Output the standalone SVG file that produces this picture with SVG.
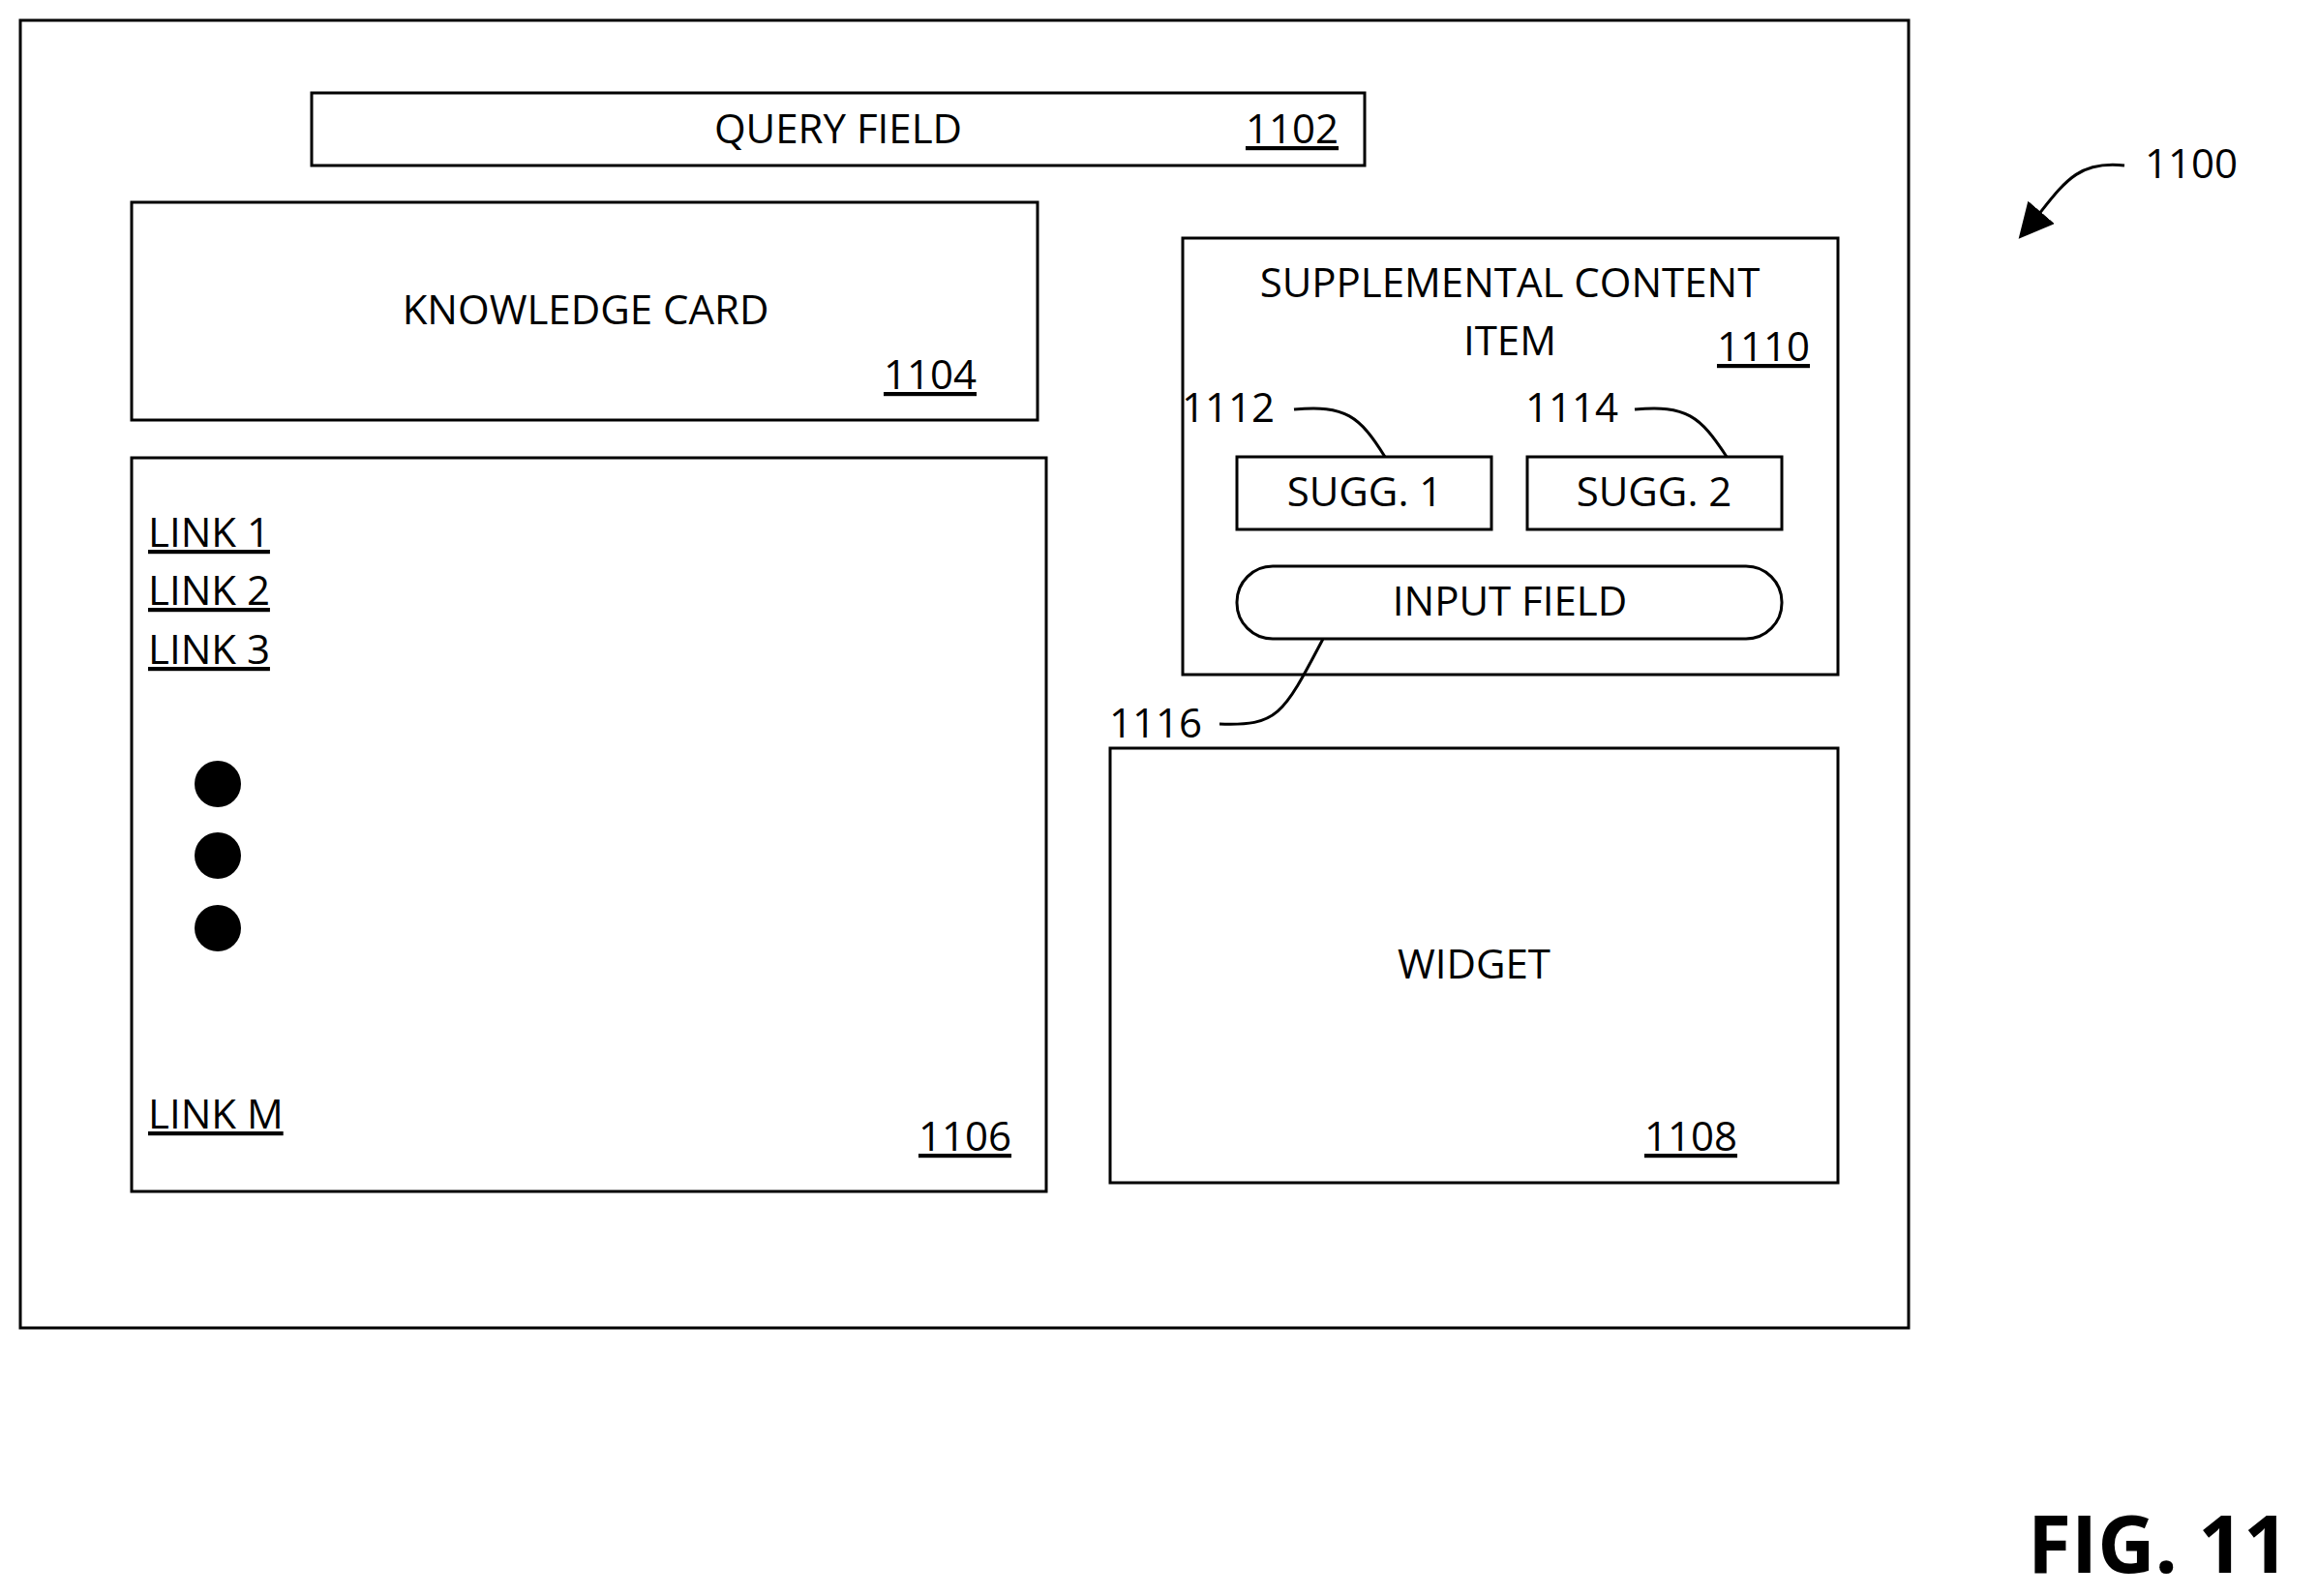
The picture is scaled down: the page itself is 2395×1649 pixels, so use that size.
<svg xmlns="http://www.w3.org/2000/svg" width="2395" height="1649" viewBox="0 0 2395 1649">
<style>
rect{fill:none;stroke:#000;stroke-width:3}
text{font-family:"Open Sans","Liberation Sans",sans-serif;font-size:42px;fill:#000}
.c{text-anchor:middle}
.u{text-decoration:underline}
.l{fill:none;stroke:#000;stroke-width:3}
</style>
<defs><marker id="ah" viewBox="0 0 10 10" refX="9" refY="5" markerWidth="36" markerHeight="36" markerUnits="userSpaceOnUse" orient="auto"><path d="M0,0L10,5L0,10z"/></marker></defs>
<rect x="21" y="21" width="1951" height="1351" fill="#fff"/>
<g id="query"><rect x="322" y="96" width="1088" height="75"/><text class="c" x="866" y="148">QUERY FIELD</text><text class="c u" x="1335" y="148">1102</text></g>
<g id="knowledge"><rect x="136" y="209" width="936" height="225"/><text class="c" x="605" y="335">KNOWLEDGE CARD</text><text class="c u" x="961" y="402">1104</text></g>
<g id="links"><rect x="136" y="473" width="945" height="758"/>
<text class="u" x="153" y="565">LINK 1</text><text class="u" x="153" y="625">LINK 2</text><text class="u" x="153" y="686">LINK 3</text>
<circle cx="225" cy="810" r="24"/><circle cx="225" cy="884" r="24"/><circle cx="225" cy="959" r="24"/>
<text class="u" x="153" y="1166">LINK M</text><text class="c u" x="997" y="1189">1106</text></g>
<g id="supp"><rect x="1222" y="246" width="677" height="451"/><text class="c" x="1560" y="307">SUPPLEMENTAL CONTENT</text><text class="c" x="1560" y="367">ITEM</text><text class="c u" x="1822" y="373">1110</text></g>
<g id="sugg1"><rect x="1278" y="472" width="263" height="75"/><text class="c" x="1410" y="523">SUGG. 1</text><text class="c" x="1269" y="436">1112</text></g>
<g id="sugg2"><rect x="1578" y="472" width="263" height="75"/><text class="c" x="1624" y="436">1114</text><text class="c" x="1709" y="523">SUGG. 2</text></g>
<g id="input"><rect x="1278" y="585" width="563" height="75" rx="37"/><text class="c" x="1560" y="636">INPUT FIELD</text><text class="c" x="1194" y="762">1116</text></g>
<g id="widget"><rect x="1147" y="773" width="752" height="449"/><text class="c" x="1523" y="1011">WIDGET</text><text class="c u" x="1747" y="1189">1108</text></g>
<g id="ref"><text x="2216" y="184">1100</text><text x="2095" y="1625" style="font-size:82px;font-weight:bold">FIG. 11</text></g>
<g id="connectors">
<path class="l" d="M1337,423 C1390,418 1405,430 1431,472"/>
<path class="l" d="M1689,423 C1742,418 1757,430 1784,472"/>
<path class="l" d="M1260,748 C1320,750 1325,740 1367,660"/>
<path class="l" d="M2195,171 C2140,165 2130,195 2088,244" marker-end="url(#ah)"/>
</g>
</svg>
